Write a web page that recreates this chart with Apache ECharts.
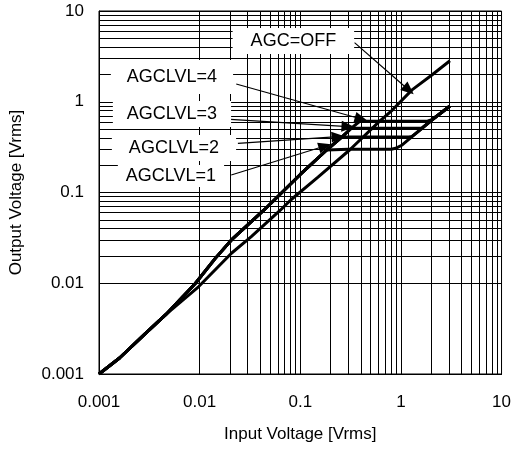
<!DOCTYPE html>
<html><head><meta charset="utf-8">
<script src="https://cdn.jsdelivr.net/npm/echarts@6/dist/echarts.min.js"></script>
<style>html,body{margin:0;padding:0;background:#fff}#c{width:514px;height:449px}</style>
</head><body><div id="c"></div>
<script>
// ---- data ----
const tickValues = [0.001, 0.01, 0.1, 1, 10];
const tickLabels = ['0.001', '0.01', '0.1', '1', '10'];
const minorMultipliers = [2, 3, 4, 5, 6, 7, 8, 9];
const decadeStarts = [0.001, 0.01, 0.1, 1];

// AGC=OFF
const offX = [0.001, 0.0016, 0.0029, 0.0046, 0.0098, 0.0207, 0.0326, 0.0637, 0.0803, 0.15, 0.309, 0.608, 0.822, 1.29, 2.03, 3.07];
const offY = [0.001, 0.0015, 0.0028, 0.0045, 0.0092, 0.0214, 0.0326, 0.0642, 0.0827, 0.148, 0.294, 0.603, 0.811, 1.35, 1.97, 2.83];

// AGC on: shared rising part
const riseX = [0.001, 0.0016, 0.0029, 0.0046, 0.0091, 0.0143, 0.0207, 0.0437, 0.0552, 0.1, 0.183];
const riseY = [0.001, 0.0015, 0.0028, 0.0045, 0.0100, 0.0188, 0.030, 0.0642, 0.0827, 0.158, 0.294];

// level-specific parts
const lvl1X = [0.19, 0.3, 0.5, 0.8, 0.887, 1.03, 1.29, 1.62, 2.03, 3.07];
const lvl1Y = [0.30, 0.30, 0.30, 0.30, 0.307, 0.334, 0.412, 0.51, 0.629, 0.898];
const lvl2X = [0.26, 0.5, 1.0, 1.2, 1.29, 1.62, 2.03, 3.07];
const lvl2Y = [0.41, 0.41, 0.41, 0.41, 0.415, 0.51, 0.629, 0.898];
const lvl3X = [0.26, 0.32, 0.6, 1.2, 1.5, 1.62, 2.03, 3.07];
const lvl3Y = [0.41, 0.51, 0.51, 0.51, 0.51, 0.515, 0.629, 0.898];
const lvl4X = [0.26, 0.32, 0.39, 0.8, 1.5, 1.85, 2.0, 2.5, 3.07];
const lvl4Y = [0.41, 0.51, 0.61, 0.61, 0.61, 0.615, 0.63, 0.752, 0.898];

// annotations: label text, label centre (x,y), arrow start, arrow tip
const annTexts = ['AGC=OFF', 'AGCLVL=4', 'AGCLVL=3', 'AGCLVL=2', 'AGCLVL=1'];
const annPos = [[0.0854, 4.67], [0.00531, 1.87], [0.00531, 0.733], [0.00556, 0.309], [0.00519, 0.152]];
const annFrom = [[0.346, 4.48], [0.0231, 1.57], [0.0184, 0.645], [0.0240, 0.348], [0.0206, 0.156]];
const annTo = [[1.197, 1.346], [0.403, 0.645], [0.298, 0.531], [0.237, 0.412], [0.176, 0.325]];
const annPad = [[4, 18], [8, 16], [4, 14], [4, 17], [2, 8]];

// ---- build ----
const zip = (xs, ys) => xs.map((x, i) => [x, ys[i]]);
const font = 'Liberation Sans, Arial, sans-serif';
const fmt = v => { const n = Number(Number(v).toPrecision(6)); const i = tickValues.findIndex(t => Math.abs(t - n) < 1e-9); return i >= 0 ? tickLabels[i] : ''; };

const minorVals = [];
decadeStarts.forEach(d => minorMultipliers.forEach(m => minorVals.push(Number((d * m).toPrecision(6)))));
const gridLines = [];
minorVals.forEach(v => { gridLines.push({ xAxis: v }); gridLines.push({ yAxis: v }); });

const curveStyle = { color: '#000', width: 3 };
const curve = (name, data) => ({ name, type: 'line', data, symbol: 'none', lineStyle: curveStyle, z: 6, silent: true, animation: false });

const option = {
  animation: false,
  grid: { left: 96, right: 10, top: 11, bottom: 75, show: true, borderColor: '#000', borderWidth: 1 },
  xAxis: {
    type: 'log', logBase: 10, min: 0.001, max: 10, interval: 1,
    name: 'Input Voltage [Vrms]', nameLocation: 'middle', nameGap: 52,
    nameTextStyle: { fontFamily: font, fontSize: 17, color: '#000' },
    axisLine: { show: true, lineStyle: { color: '#000' } },
    axisTick: { show: false },
    axisLabel: { fontFamily: font, fontSize: 17, color: '#000', margin: 20, formatter: fmt },
    splitLine: { show: true, lineStyle: { color: '#000', width: 1 } }
  },
  yAxis: {
    type: 'log', logBase: 10, min: 0.001, max: 10, interval: 1,
    name: 'Output Voltage [Vrms]', nameLocation: 'middle', nameGap: 74,
    nameTextStyle: { fontFamily: font, fontSize: 17, color: '#000' },
    axisLine: { show: true, lineStyle: { color: '#000' } },
    axisTick: { show: false },
    axisLabel: { fontFamily: font, fontSize: 17, color: '#000', margin: 15, formatter: fmt },
    splitLine: { show: true, lineStyle: { color: '#000', width: 1 } }
  },
  series: [
    {
      name: 'minorGrid', type: 'line', data: [], silent: true, z: 1,
      markLine: { silent: true, symbol: 'none', animation: false, label: { show: false },
        lineStyle: { color: '#000', width: 1, type: 'solid' }, data: gridLines }
    },
    {
      name: 'labels', type: 'line', data: [], silent: true, z: 3,
      markPoint: {
        silent: true, animation: false, symbol: 'rect', symbolSize: 1,
        itemStyle: { color: 'rgba(0,0,0,0)' },
        data: annTexts.map((t, i) => ({
          coord: annPos[i], value: t,
          label: { show: true, position: 'inside', formatter: t, fontFamily: font, fontSize: 18, color: '#000',
            backgroundColor: '#fff', padding: annPad[i] }
        }))
      }
    },
    {
      name: 'arrows', type: 'line', data: [], silent: true, z: 4,
      markLine: {
        silent: true, animation: false, symbol: ['none', 'triangle'], symbolSize: [11, 13],
        label: { show: false }, lineStyle: { color: '#000', width: 1.2, type: 'solid' },
        itemStyle: { color: '#000' },
        data: annFrom.map((f, i) => [{ coord: f }, { coord: annTo[i] }])
      }
    },
    curve('AGC=OFF', zip(offX, offY)),
    curve('AGCLVL=1', zip(riseX.concat(lvl1X), riseY.concat(lvl1Y))),
    curve('AGCLVL=2', zip(riseX.concat(lvl2X), riseY.concat(lvl2Y))),
    curve('AGCLVL=3', zip(riseX.concat(lvl3X), riseY.concat(lvl3Y))),
    curve('AGCLVL=4', zip(riseX.concat(lvl4X), riseY.concat(lvl4Y)))
  ]
};
const chart = echarts.init(document.getElementById('c'), null, { renderer: 'canvas' });
chart.setOption(option);
</script></body></html>
